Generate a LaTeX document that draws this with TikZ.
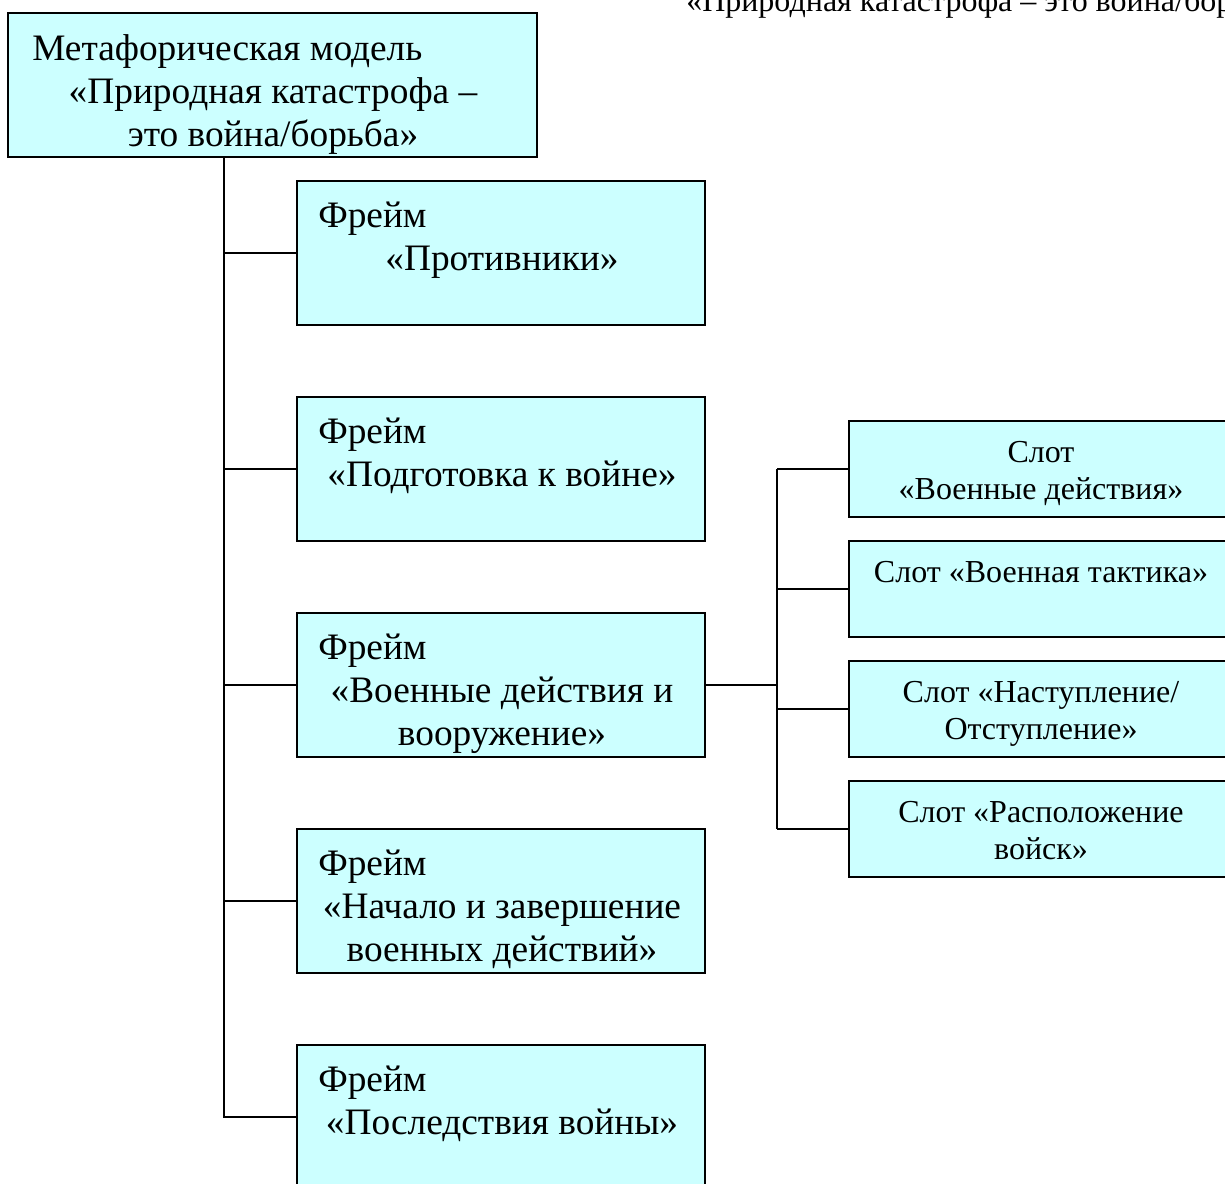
\documentclass[tikz,border=0pt]{standalone}
\usepackage{fontspec}
\setmainfont{Liberation Serif}
\usetikzlibrary{fit}
\definecolor{boxfill}{RGB}{204,255,255}
\tikzset{
  x=0.75pt, y=-0.75pt,
  box/.style={draw=black, line width=1.5pt, fill=boxfill, inner sep=0pt, rectangle},
  link/.style={draw=black, line width=1.3pt},
  big/.style={inner sep=0pt, font=\fontsize{28}{32}\selectfont},
  small/.style={inner sep=0pt, font=\fontsize{24}{28}\selectfont},
}
\begin{document}
\begin{tikzpicture}
\useasboundingbox (0,0) rectangle (1225,1183);
\clip (0,0) rectangle (1225,1183);
\fill[white] (0,0) rectangle (1225,1183);

% boxes
\node[box, fit={(8,13) (537,157)}] (main) {};
\node[box, fit={(297,181) (705,325)}] (f1) {};
\node[box, fit={(297,397) (705,541)}] (f2) {};
\node[box, fit={(297,613) (705,757)}] (f3) {};
\node[box, fit={(297,829) (705,973)}] (f4) {};
\node[box, fit={(297,1045) (705,1189)}] (f5) {};
\node[box, fit={(849,421) (1233,517)}] (s1) {};
\node[box, fit={(849,541) (1233,637)}] (s2) {};
\node[box, fit={(849,661) (1233,757)}] (s3) {};
\node[box, fit={(849,781) (1233,877)}] (s4) {};

% connectors
\coordinate (tr) at (224,157);
\draw[link] (tr) |- (f5.west);
\draw[link] (tr |- f1.west) -- (f1.west);
\draw[link] (tr |- f2.west) -- (f2.west);
\draw[link] (tr |- f3.west) -- (f3.west);
\draw[link] (tr |- f4.west) -- (f4.west);
\coordinate (sj) at (777,685);
\draw[link] (f3.east) -- (sj);
\draw[link] (sj |- s1.west) -- (sj |- s4.west);
\draw[link] (sj |- s1.west) -- (s1.west);
\draw[link] (sj |- s2.west) -- (s2.west);
\draw[link] (sj |- s3.west) -- (s3.west);
\draw[link] (sj |- s4.west) -- (s4.west);

% top cut text
\node[small, anchor=base west] (top) at (686,11) {«Природная катастрофа – это война/борьба»};

% main text
\node[big, anchor=base west] (m1) at (32,60) {Метафорическая модель};
\node[big, anchor=base] (m2) at (273,103) {«Природная катастрофа –};
\node[big, anchor=base] (m3) at (273,146) {это война/борьба»};

% frames
\node[big, anchor=base west] (f1a) at (318,227) {Фрейм};
\node[big, anchor=base] (f1b) at (502,270) {«Противники»};
\node[big, anchor=base west] (f2a) at (318,443) {Фрейм};
\node[big, anchor=base] (f2b) at (502,486) {«Подготовка к войне»};
\node[big, anchor=base west] (f3a) at (318,659) {Фрейм};
\node[big, anchor=base] (f3b) at (502,702) {«Военные действия и};
\node[big, anchor=base] (f3c) at (502,745) {вооружение»};
\node[big, anchor=base west] (f4a) at (318,875) {Фрейм};
\node[big, anchor=base] (f4b) at (502,918) {«Начало и завершение};
\node[big, anchor=base] (f4c) at (502,961) {военных действий»};
\node[big, anchor=base west] (f5a) at (318,1091) {Фрейм};
\node[big, anchor=base] (f5b) at (502,1134) {«Последствия войны»};

% slots
\node[small, anchor=base] (s1a) at (1041,462) {Слот};
\node[small, anchor=base] (s1b) at (1041,499) {«Военные действия»};
\node[small, anchor=base] (s2a) at (1041,582) {Слот «Военная тактика»};
\node[small, anchor=base] (s3a) at (1041,702) {Слот «Наступление/};
\node[small, anchor=base] (s3b) at (1041,739) {Отступление»};
\node[small, anchor=base] (s4a) at (1041,822) {Слот «Расположение};
\node[small, anchor=base] (s4b) at (1041,859) {войск»};
\end{tikzpicture}
\end{document}
